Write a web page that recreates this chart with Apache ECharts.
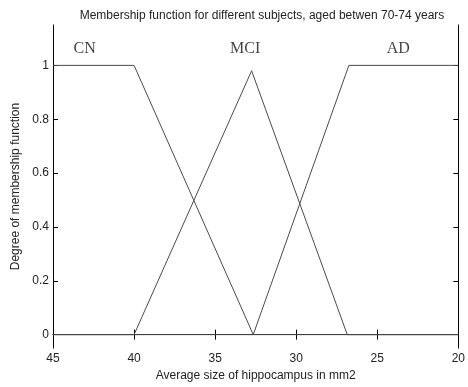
<!DOCTYPE html>
<html><head><meta charset="utf-8">
<script src="https://cdn.jsdelivr.net/npm/echarts@6/dist/echarts.min.js"></script>
<style>html,body{margin:0;padding:0;background:#fff}#c{width:468px;height:387px}</style>
</head><body><div id="c"></div>
<script>
var titleText = 'Membership function for different subjects, aged betwen 70-74 years';
var xName = 'Average size of hippocampus in mm2';
var yName = 'Degree of membership function';
var yTicks = [0, 0.2, 0.4, 0.6, 0.8, 1];
var cnData = [[45, 1], [40, 1], [32.65, 0], [20, 0]];
var mciData = [[45, 0], [40, 0], [32.75, 0.98], [26.85, 0], [20, 0]];
var adData = [[45, 0], [32.65, 0], [26.75, 1], [20, 1]];
var classLabels = [[43.05, 1.063, 'CN'], [33.15, 1.063, 'MCI'], [23.7, 1.063, 'AD']];

var chart = echarts.init(document.getElementById('c'));
var font = 'Liberation Sans, Arial, sans-serif';
var axisCommon = {
  min: 20, max: 45, interval: 5, inverse: true,
  axisLine: {lineStyle: {color: '#000', width: 1}},
  axisTick: {inside: true, length: 5, lineStyle: {color: '#000'}},
  splitLine: {show: false}
};
function lineSeries(name, d) {
  return {type: 'line', name: name, data: d, symbol: 'none', animation: false,
    lineStyle: {color: '#4a4a4a', width: 1}, xAxisIndex: 0, yAxisIndex: 0};
}
chart.setOption({
  animation: false,
  title: {text: titleText, left: 257, textAlign: 'center', top: 5,
    textStyle: {fontFamily: font, fontSize: 12, fontWeight: 'normal', color: '#222'}},
  grid: {left: 53, right: 6, top: 25, bottom: 38.5},
  xAxis: [
    Object.assign({}, axisCommon, {type: 'value', position: 'bottom', name: xName,
      nameLocation: 'middle', nameGap: 20,
      nameTextStyle: {fontFamily: font, fontSize: 12, color: '#222'},
      axisLabel: {fontFamily: font, fontSize: 12, color: '#222', margin: 5}}),
    Object.assign({}, axisCommon, {type: 'value', position: 'top', axisLabel: {show: false}})
  ],
  yAxis: [
    {type: 'value', min: -0.05, max: 1.15, position: 'left', name: yName,
      nameLocation: 'middle', nameGap: 31,
      nameTextStyle: {fontFamily: font, fontSize: 12, color: '#222'},
      axisLine: {show: true, lineStyle: {color: '#000'}},
      axisTick: {inside: true, length: 5, lineStyle: {color: '#000'}, customValues: yTicks},
      splitLine: {show: false},
      axisLabel: {fontFamily: font, fontSize: 12, color: '#222', margin: 4, customValues: yTicks}},
    {type: 'value', min: -0.05, max: 1.15, position: 'right',
      axisLine: {show: true, lineStyle: {color: '#000'}},
      axisTick: {inside: true, length: 5, lineStyle: {color: '#000'}, customValues: yTicks},
      splitLine: {show: false}, axisLabel: {show: false, customValues: yTicks}}
  ],
  series: [
    lineSeries('CN', cnData),
    lineSeries('MCI', mciData),
    lineSeries('AD', adData),
    {type: 'scatter', data: classLabels, symbolSize: 0, silent: true,
      label: {show: true, position: 'inside', formatter: function (p) { return p.data[2]; },
        fontFamily: 'Liberation Serif, Times New Roman, serif', fontSize: 16, color: '#111'}}
  ]
});
</script></body></html>
